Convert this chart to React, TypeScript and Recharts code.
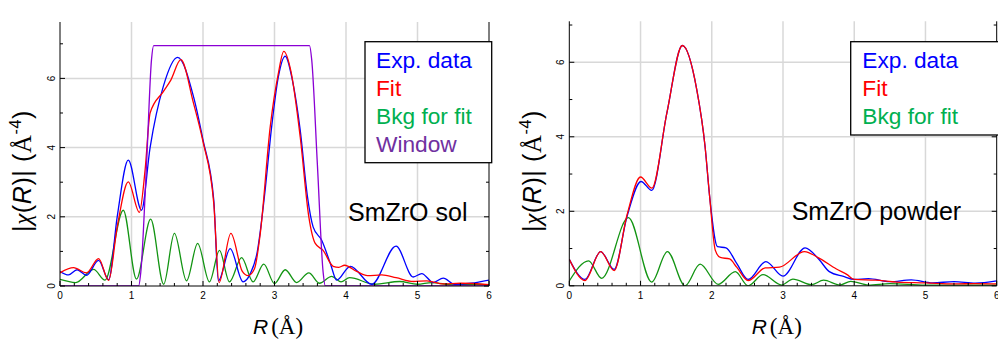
import React from 'react';
import { LineChart, Line, XAxis, YAxis, CartesianGrid } from 'recharts';

// ---------- tick values / labels ----------
const xTicks = [0, 0.2, 0.4, 0.6, 0.8, 1, 1.2, 1.4, 1.6, 1.8, 2, 2.2, 2.4, 2.6, 2.8, 3, 3.2, 3.4, 3.6, 3.8, 4, 4.2, 4.4, 4.6, 4.8, 5, 5.2, 5.4, 5.6, 5.8, 6];
const xTickLabels = ['0', '1', '2', '3', '4', '5', '6'];
const yTicks = [0, 1, 2, 3, 4, 5, 6, 7];
const yTickLabels = ['0', '2', '4', '6'];
const xGrid = [1, 2, 3, 4, 5];
const yGrid = [2, 4, 6];

// ---------- SmZrO sol (left) ----------
const solExp: [number, number][] = [
  [0, 0.42], [0.12, 0.32], [0.24, 0.47], [0.37, 0.31], [0.54, 0.74], [0.68, 0.18], [0.8, 2.0],
  [0.955, 3.64], [1.14, 2.19], [1.26, 4.0], [1.445, 5.77], [1.645, 6.61], [1.87, 5.45], [2.0, 4.22],
  [2.15, 2.5], [2.215, 0.15], [2.38, 1.08], [2.56, 0.12], [2.66, 0.35], [2.76, 1.0], [2.86, 2.6],
  [2.96, 4.6], [3.05, 6.0], [3.15, 6.64], [3.25, 5.95], [3.36, 4.5], [3.46, 2.6], [3.54, 1.71],
  [3.66, 1.32], [3.78, 0.66], [3.87, 0.17], [4.06, 0.57], [4.36, 0.05], [4.7, 1.15], [4.94, 0.26],
  [5.06, 0.36], [5.22, 0.1], [5.36, 0.23], [5.52, 0.05], [5.75, 0.08], [6.0, 0.17],
];
const solFit: [number, number][] = [
  [0, 0.38], [0.19, 0.53], [0.37, 0.38], [0.54, 0.79], [0.68, 0.16], [0.8, 1.7], [0.955, 3.01],
  [1.11, 2.13], [1.19, 3.35], [1.26, 5.0], [1.445, 5.62], [1.55, 5.95], [1.69, 6.54], [1.865, 5.3],
  [2.0, 4.17], [2.15, 2.4], [2.225, 0.1], [2.39, 1.52], [2.55, 0.42], [2.63, 0.3], [2.72, 0.5],
  [2.8, 1.5], [2.94, 4.6], [3.05, 6.1], [3.13, 6.78], [3.23, 6.2], [3.36, 4.3], [3.48, 2.0],
  [3.57, 1.23], [3.68, 1.03], [3.82, 0.57], [3.9, 0.54], [3.98, 0.6], [4.15, 0.42], [4.3, 0.3],
  [4.5, 0.32], [4.7, 0.24], [4.94, 0.13], [5.13, 0.15], [5.36, 0.06], [5.6, 0.08], [6.0, 0.04],
];
const solBkg: [number, number][] = [
  [0, 0.19], [0.22, 0.1], [0.47, 0.48], [0.63, 0.17], [0.885, 2.19], [1.07, 0.2], [1.268, 1.93],
  [1.45, 0.05], [1.6, 1.52], [1.77, 0.15], [1.925, 1.23], [2.09, 0.12], [2.23, 1.03], [2.37, 0.12],
  [2.54, 0.82], [2.7, 0.12], [2.85, 0.63], [3.0, 0.07], [3.15, 0.47], [3.31, 0.1], [3.48, 0.38],
  [3.63, 0.08], [3.8, 0.28], [3.93, 0.12], [4.05, 0.24], [4.4, 0.05], [4.75, 0.13], [5.0, 0.05],
  [5.2, 0.1], [5.5, 0.03], [5.8, 0.05], [6.0, 0.02],
];
const solWin: [number, number][] = [
  [0, 0], [1.1, 0], [1.13, 0.4], [1.21, 3.5], [1.28, 6.55], [1.31, 6.95], [3.49, 6.95], [3.52, 6.55],
  [3.6, 3.5], [3.68, 0.4], [3.71, 0], [6, 0],
];

// ---------- SmZrO powder (right) ----------
const powExp: [number, number][] = [
  [0, 0.71], [0.22, 0.17], [0.44, 0.92], [0.63, 0.44], [0.81, 1.86], [1.007, 2.8], [1.157, 2.56],
  [1.37, 4.64], [1.587, 6.45], [1.79, 5.26], [1.906, 3.74], [1.97, 2.4], [2.08, 1.05], [2.2, 1.02],
  [2.35, 0.6], [2.51, 0.17], [2.76, 0.65], [3.0, 0.26], [3.31, 1.02], [3.5, 0.72], [3.65, 0.38],
  [3.85, 0.25], [4.0, 0.17], [4.2, 0.19], [4.5, 0.11], [4.8, 0.16], [5.1, 0.08], [5.4, 0.11],
  [5.7, 0.07], [6.0, 0.13],
];
const powFit: [number, number][] = [
  [0, 0.71], [0.22, 0.14], [0.44, 0.92], [0.63, 0.41], [0.81, 1.9], [1.0, 2.92], [1.16, 2.62],
  [1.37, 4.64], [1.587, 6.45], [1.79, 5.26], [1.906, 3.74], [1.97, 2.4], [2.05, 0.95], [2.12, 0.76],
  [2.25, 0.72], [2.35, 0.5], [2.51, 0.14], [2.75, 0.48], [2.95, 0.5], [3.3, 0.92], [3.5, 0.75],
  [3.75, 0.45], [3.9, 0.3], [4.0, 0.17], [4.3, 0.15], [4.6, 0.1], [5.0, 0.08], [5.4, 0.05],
  [5.7, 0.06], [6.0, 0.05],
];
const powBkg: [number, number][] = [
  [0, 0.13], [0.27, 0.67], [0.455, 0.2], [0.83, 1.83], [1.157, 0.1], [1.377, 0.92], [1.625, 0.0],
  [1.836, 0.58], [2.09, 0.04], [2.33, 0.38], [2.51, 0.0], [2.72, 0.3], [2.98, 0.02], [3.14, 0.18],
  [3.4, 0.03], [3.57, 0.15], [3.8, 0.02], [3.95, 0.12], [4.2, 0.02], [4.5, 0.06], [5.0, 0.02],
  [6.0, 0.02],
];

const seriesNames = ['Exp. data', 'Fit', 'Bkg for fit', 'Window'];
const legendColors = ['#0000ff', '#ff0000', '#00b050', '#7030a0'];
const lineColors = { exp: '#0000ff', fit: '#ff0000', bkg: '#129412', win: '#8a00d4' };

const toData = (pts: [number, number][]) => pts.map(([r, v]) => ({ r, v }));
const isMajorX = (v: number) => Math.abs(v - Math.round(v)) < 1e-6;

const TICK_FONT = '"Liberation Sans", Arial, sans-serif';

const XBottomTick = (props: any) => {
  const { x, y, payload } = props;
  const v = payload.value;
  const major = isMajorX(v);
  const idx = Math.round(v);
  return (
    <g>
      <line x1={x} x2={x} y1={y} y2={y - (major ? 5 : 3)} stroke="#000" strokeWidth={1} />
      {major && (
        <text x={x} y={y + 13} textAnchor="middle" fontSize={10} fontFamily={TICK_FONT} fill="#000">
          {xTickLabels[idx]}
        </text>
      )}
    </g>
  );
};
const XTopTick = (props: any) => {
  const { x, y, payload } = props;
  const major = isMajorX(payload.value);
  return <line x1={x} x2={x} y1={y} y2={y + (major ? 5 : 3)} stroke="#000" strokeWidth={1} />;
};
const YLeftTick = (props: any) => {
  const { x, y, payload } = props;
  const v = payload.value;
  const major = v % 2 === 0;
  return (
    <g>
      <line x1={x} x2={x + (major ? 5 : 3)} y1={y} y2={y} stroke="#000" strokeWidth={1} />
      {major && (
        <text
          transform={`translate(${x - 9},${y}) rotate(-90)`}
          textAnchor="middle"
          dominantBaseline="central"
          fontSize={10}
          fontFamily={TICK_FONT}
          fill="#000"
        >
          {yTickLabels[v / 2]}
        </text>
      )}
    </g>
  );
};
const YRightTick = (props: any) => {
  const { x, y, payload } = props;
  const major = payload.value % 2 === 0;
  return <line x1={x} x2={x - (major ? 5 : 3)} y1={y} y2={y} stroke="#000" strokeWidth={1} />;
};

type PanelProps = {
  width: number;
  plotLeft: number;
  plotRight: number;
  plotTop: number;
  plotBottom: number;
  yMax: number;
  title: string;
  xLabelX: number;
  yLabelX: number;
  yLabelY: number;
  lines: { data: [number, number][]; color: string; key: string }[];
};

const SANS = '"Liberation Sans", Arial, sans-serif';
const SERIF = '"Liberation Serif", "Times New Roman", serif';

const Panel = (p: PanelProps) => {
  const H = 342;
  return (
    <LineChart
      width={p.width}
      height={H}
      margin={{ top: p.plotTop, right: 0, bottom: 0, left: 0 }}
    >
      <CartesianGrid
        verticalValues={xGrid}
        horizontalValues={yGrid}
        stroke="#d8d8d8"
        strokeWidth={1.5}
        xAxisId="b"
        yAxisId="l"
      />
      <XAxis
        xAxisId="b"
        dataKey="r"
        type="number"
        domain={[0, 6]}
        allowDataOverflow
        ticks={xTicks}
        interval={0}
        height={H - p.plotBottom}
        tickSize={0}
        tickMargin={0}
        tick={<XBottomTick />}
        axisLine={{ stroke: '#000', strokeWidth: 1 }}
        tickLine={false}
        label={{
          content: (lp: any) => {
            const vb = lp.viewBox;
            return (
              <text x={vb.x + p.xLabelX} y={vb.y + 48} fill="#000">
                <tspan fontFamily={SANS} fontStyle="italic" fontSize={21}>R</tspan>
                <tspan fontFamily={SERIF} fontSize={23} dx={3}>(Å)</tspan>
              </text>
            );
          },
        }}
      />
      <XAxis
        xAxisId="t"
        orientation="top"
        dataKey="r"
        type="number"
        domain={[0, 6]}
        allowDataOverflow
        ticks={xTicks}
        interval={0}
        height={0}
        tickSize={0}
        tickMargin={0}
        tick={<XTopTick />}
        axisLine={{ stroke: '#000', strokeWidth: 1 }}
        tickLine={false}
        label={{
          content: (lp: any) => {
            const vb = lp.viewBox;
            return (
              <text
                x={vb.x + vb.width / 2}
                y={vb.y - 5.5}
                textAnchor="middle"
                fontSize={9}
                fontFamily='"DejaVu Sans", sans-serif'
                fill="#000"
              >
                {p.title}
              </text>
            );
          },
        }}
      />
      <YAxis
        yAxisId="l"
        type="number"
        domain={[0, p.yMax]}
        allowDataOverflow
        ticks={yTicks}
        interval={0}
        width={p.plotLeft}
        tickSize={0}
        tickMargin={0}
        tick={<YLeftTick />}
        axisLine={{ stroke: '#000', strokeWidth: 1 }}
        tickLine={false}
        label={{
          content: () => (
            <text
              transform={`translate(${p.yLabelX},${p.yLabelY}) rotate(-90)`}
              textAnchor="middle"
              fontSize={25}
              fontFamily={SANS}
              letterSpacing={0.6}
              fill="#000"
            >
              <tspan>|</tspan>
              <tspan fontStyle="italic" fontFamily={SERIF}>χ</tspan>
              <tspan>(</tspan>
              <tspan fontStyle="italic">R</tspan>
              <tspan>)|  (</tspan>
              <tspan fontFamily={SERIF}>Å</tspan>
              <tspan fontSize={16} dy={-10}>-4</tspan>
              <tspan dy={10}>)</tspan>
            </text>
          ),
        }}
      />
      <YAxis
        yAxisId="r"
        orientation="right"
        type="number"
        domain={[0, p.yMax]}
        allowDataOverflow
        ticks={yTicks}
        interval={0}
        width={p.width - p.plotRight}
        tickSize={0}
        tickMargin={0}
        tick={<YRightTick />}
        axisLine={{ stroke: '#000', strokeWidth: 1 }}
        tickLine={false}
      />
      {p.lines.map((ln) => (
        <Line
          key={ln.key}
          xAxisId="b"
          yAxisId="l"
          data={toData(ln.data)}
          dataKey="v"
          type="monotone"
          stroke={ln.color}
          strokeWidth={1.3}
          dot={false}
          activeDot={false}
          isAnimationActive={false}
        />
      ))}
    </LineChart>
  );
};

export default function App() {
  return (
    <div
      style={{
        position: 'absolute',
        left: 0,
        top: 0,
        width: 998,
        height: 342,
        overflow: 'hidden',
        background: '#fff',
      }}
    >
      <div style={{ position: 'absolute', left: 0, top: 0 }}>
        <Panel
          width={499}
          plotLeft={60}
          plotRight={489}
          plotTop={22}
          plotBottom={286}
          yMax={7.63}
          title="'Zr_K_SmZrO_sol.txt' in R space"
          xLabelX={193}
          yLabelX={31}
          yLabelY={171}
          lines={[
            { key: 'bkg', data: solBkg, color: lineColors.bkg },
            { key: 'exp', data: solExp, color: lineColors.exp },
            { key: 'fit', data: solFit, color: lineColors.fit },
            { key: 'win', data: solWin, color: lineColors.win },
          ]}
        />
      </div>
      <div style={{ position: 'absolute', left: 499, top: 0 }}>
        <Panel
          width={510}
          plotLeft={70.3}
          plotRight={497.7}
          plotTop={21.3}
          plotBottom={285.8}
          yMax={7.1}
          title="'Zr_K_SmZrO_powder.txt' in R space"
          xLabelX={182.4}
          yLabelX={42}
          yLabelY={171}
          lines={[
            { key: 'bkg', data: powBkg, color: lineColors.bkg },
            { key: 'exp', data: powExp, color: lineColors.exp },
            { key: 'fit', data: powFit, color: lineColors.fit },
          ]}
        />
      </div>
      <svg
        width={998}
        height={342}
        style={{ position: 'absolute', left: 0, top: 0, pointerEvents: 'none' }}
      >
        <rect x={365} y={41.7} width={126.7} height={121} fill="#fff" stroke="#000" strokeWidth={1.3} />
        {seriesNames.map((n, i) => (
          <text key={n} x={376} y={68.3 + i * 27.8} fontSize={22.7} fontFamily={SANS} fill={legendColors[i]}>
            {n}
          </text>
        ))}
        <rect x={850.7} y={41.7} width={160} height={93.3} fill="#fff" stroke="#000" strokeWidth={1.3} />
        {seriesNames.slice(0, 3).map((n, i) => (
          <text key={n} x={862.3} y={68.3 + i * 27.8} fontSize={22.7} fontFamily={SANS} fill={legendColors[i]}>
            {n}
          </text>
        ))}
        <text x={348} y={221} fontSize={25} fontFamily={SANS} fill="#000">SmZrO sol</text>
        <text x={791.7} y={220} fontSize={25} fontFamily={SANS} fill="#000">SmZrO powder</text>
      </svg>
    </div>
  );
}
